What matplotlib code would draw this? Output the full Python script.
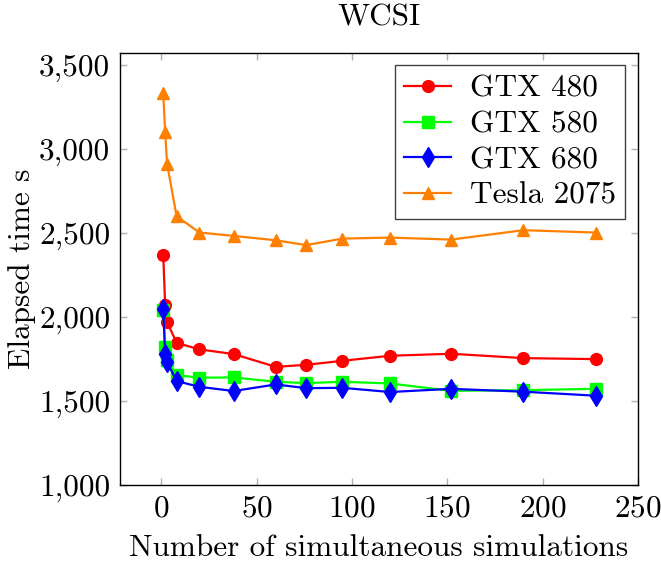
import matplotlib
matplotlib.use("Agg")
import matplotlib.pyplot as plt
import matplotlib.ticker as mticker

# number of simultaneous simulations
sims = [1, 2, 3, 8, 20, 38, 60, 76, 95, 120, 152, 190, 228]

# elapsed time (s)
gtx480 = [2369, 2075, 1972, 1847, 1808, 1780, 1704, 1716, 1740, 1770, 1782, 1756, 1750]
gtx580 = [2045, 1825, 1744, 1655, 1639, 1641, 1615, 1607, 1615, 1605, 1561, 1565, 1573]
gtx680 = [2046, 1780, 1734, 1619, 1585, 1560, 1599, 1577, 1579, 1554, 1573, 1556, 1532]
tesla2075 = [3335, 3103, 2915, 2601, 2504, 2484, 2458, 2429, 2468, 2474, 2462, 2518, 2504]

plt.rcParams['font.family'] = 'serif'
plt.rcParams['font.serif'] = ['cmr10', 'DejaVu Serif']
plt.rcParams['mathtext.fontset'] = 'cm'
plt.rcParams['axes.formatter.use_mathtext'] = True
fs = 22.5

fig = plt.figure(figsize=(6.61, 5.63), dpi=100)
ax = fig.add_axes([0.1815, 0.1385, 0.7835, 0.7675])

ax.plot(sims, gtx480, color='#ff0000', marker='o', ms=8.5, lw=1.6, label='GTX 480')
ax.plot(sims, gtx580, color='#00ff00', marker='s', ms=8, lw=1.6, label='GTX 580')
ax.plot(sims, gtx680, color='#0000ff', marker='d', ms=10, lw=1.6, label='GTX 680')
ax.plot(sims, tesla2075, color='#ff8000', marker='^', ms=9, lw=1.6, label='Tesla 2075')

ax.set_xlim(-21.7, 250)
ax.set_ylim(1000, 3574)
ax.set_xticks([0, 50, 100, 150, 200, 250])
ax.set_yticks([1000, 1500, 2000, 2500, 3000, 3500])
ax.yaxis.set_major_formatter(mticker.FuncFormatter(lambda v, p: '{:,.0f}'.format(v)))

ax.tick_params(direction='in', length=5, width=1, color='#b0b0b0',
               top=True, right=True, labelsize=fs, pad=7)
for s in ax.spines.values():
    s.set_linewidth(1.0)

ax.set_title('WCSI', fontsize=fs, pad=20)
ax.set_xlabel('Number of simultaneous simulations', fontsize=fs, labelpad=8)
ax.set_ylabel('Elapsed time s', fontsize=fs, labelpad=2)

leg = ax.legend(loc='upper right', fontsize=fs, fancybox=False, framealpha=1,
                edgecolor='#404040', handlelength=1.5, borderpad=0.3,
                labelspacing=0.25, handletextpad=0.6, borderaxespad=0.4)
leg.get_frame().set_linewidth(1.0)

fig.savefig('out.png', dpi=100)
